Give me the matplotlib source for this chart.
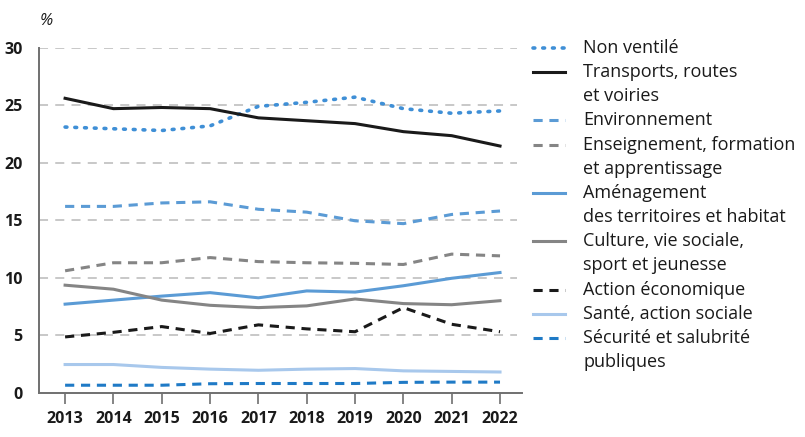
import matplotlib
matplotlib.use("Agg")
import matplotlib.pyplot as plt
from matplotlib.lines import Line2D

plt.rcParams['font.family'] = ['Open Sans', 'DejaVu Sans']

years = [2013, 2014, 2015, 2016, 2017, 2018, 2019, 2020, 2021, 2022]

non_ventile = [23.1, 22.95, 22.8, 23.2, 24.9, 25.25, 25.7, 24.7, 24.3, 24.5]
transports = [25.6, 24.7, 24.8, 24.7, 23.9, 23.65, 23.4, 22.7, 22.35, 21.45]
environnement = [16.2, 16.2, 16.5, 16.6, 15.95, 15.7, 14.95, 14.7, 15.5, 15.8]
enseignement = [10.6, 11.3, 11.3, 11.75, 11.4, 11.3, 11.25, 11.15, 12.05, 11.9]
amenagement = [7.7, 8.05, 8.4, 8.7, 8.25, 8.85, 8.75, 9.3, 9.95, 10.45]
culture = [9.35, 9.0, 8.05, 7.6, 7.4, 7.55, 8.15, 7.75, 7.65, 8.0]
action_eco = [4.85, 5.25, 5.75, 5.15, 5.9, 5.55, 5.3, 7.4, 5.95, 5.3]
sante = [2.45, 2.45, 2.2, 2.05, 1.95, 2.05, 2.1, 1.9, 1.85, 1.8]
securite = [0.65, 0.65, 0.65, 0.78, 0.8, 0.8, 0.8, 0.9, 0.92, 0.92]

labels = [
    "Non ventilé",
    "Transports, routes\net voiries",
    "Environnement",
    "Enseignement, formation\net apprentissage",
    "Aménagement\ndes territoires et habitat",
    "Culture, vie sociale,\nsport et jeunesse",
    "Action économique",
    "Santé, action sociale",
    "Sécurité et salubrité\npubliques",
]
series = [non_ventile, transports, environnement, enseignement, amenagement,
          culture, action_eco, sante, securite]

styles = [
    dict(color="#3f8fd6", ls=(0, (0.5, 2.2)), lw=2.6, dash_capstyle="round"),
    dict(color="#1a1a1a", ls="-", lw=2.2),
    dict(color="#5b9bd5", ls=(0, (3, 2.2)), lw=2.2),
    dict(color="#858585", ls=(0, (3, 2.2)), lw=2.2),
    dict(color="#5b9bd5", ls="-", lw=2.2),
    dict(color="#858585", ls="-", lw=2.2),
    dict(color="#1a1a1a", ls=(0, (3, 2.2)), lw=2.2),
    dict(color="#a8c8ec", ls="-", lw=2.2),
    dict(color="#1f7ac6", ls=(0, (3, 2.2)), lw=2.2),
]

W, H = 805, 437
fig = plt.figure(figsize=(W / 100, H / 100), dpi=100)
ax_left, ax_right = 39, 522
ax_top, ax_bot = 47.7, 392.7
ax = fig.add_axes([ax_left / W, 1 - ax_bot / H, (ax_right - ax_left) / W, (ax_bot - ax_top) / H])

for s, st in zip(series, styles):
    ax.plot(years, s, **st, zorder=3)

ax.set_xlim(2012.46, 2022.455)
ax.set_ylim(0, 30)
ax.set_yticks([0, 5, 10, 15, 20, 25, 30])
ax.set_xticks(years)
ax.set_xticklabels([str(y) for y in years], fontweight="bold", fontsize=11.5, color="#1a1a1a")
ax.set_yticklabels(["0", "5", "10", "15", "20", "25", "30"], fontweight="bold", fontsize=11.5, color="#1a1a1a")
for g in [5, 10, 15, 20, 25, 30]:
    ax.plot([2012.46, 2022.35], [g, g], color="#c4c4c4", lw=1.3, ls=(0, (5, 4)), zorder=1)

for sp in ["top", "right"]:
    ax.spines[sp].set_visible(False)
ax.spines["left"].set_color("#707070")
ax.spines["bottom"].set_color("#707070")
ax.spines["left"].set_linewidth(1.4)
ax.spines["bottom"].set_linewidth(1.4)
ax.tick_params(axis="y", length=0, pad=12)
ax.tick_params(axis="x", length=8, width=1.2, color="#707070", direction="out", pad=5)

fig.text(46 / W, 1 - 21 / H, "%", fontsize=12, style="italic", ha="center", va="center", color="#1a1a1a")

# legend
line_h = 24.2
y = 47.7
for lab, st in zip(labels, styles):
    fig.add_artist(Line2D([533 / W, 565 / W], [1 - y / H, 1 - y / H], transform=fig.transFigure, **st))
    for k, part in enumerate(lab.split("\n")):
        fig.text(583 / W, 1 - (y + k * line_h) / H, part, fontsize=13, ha="left", va="center",
                 color="#1a1a1a")
    y += line_h * len(lab.split("\n"))

fig.savefig("out.png", dpi=100)
